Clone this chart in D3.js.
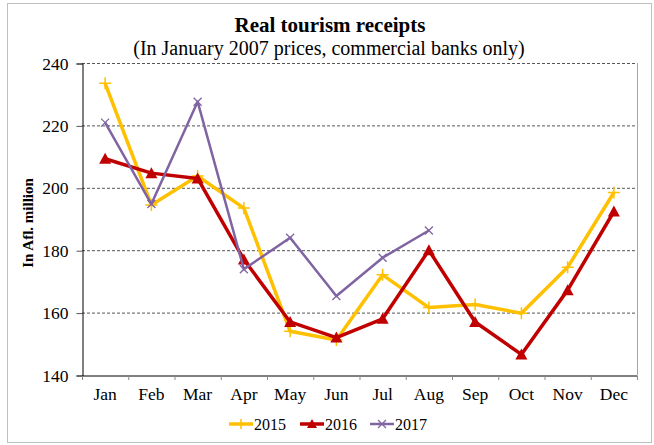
<!DOCTYPE html>
<html><head><meta charset="utf-8">
<script src="https://cdn.jsdelivr.net/npm/d3@7"></script>
<style>body{margin:0;background:#fff}svg{display:block}</style>
</head><body>
<script>
const months = ["Jan","Feb","Mar","Apr","May","Jun","Jul","Aug","Sep","Oct","Nov","Dec"];
const yTicks = [140,160,180,200,220,240];
const s2015 = [233.5,194.5,203.8,193.5,154,151.2,172.1,161.6,162.6,159.8,174.5,198.5];
const s2016 = [209.3,204.7,203,177,157,152,158,180,157,146.6,167.2,192.4];
const s2017 = [220.9,194.8,227.6,173.9,184,165.3,177.6,186.3];
const seriesNames = ["2015","2016","2017"];

const W=654,H=445;
const L=82,R=637,T=63,B=375;
const font='"Liberation Serif","Times New Roman",serif';
const svg=d3.select("body").append("svg").attr("width",W).attr("height",H);
svg.append("rect").attr("x",7.5).attr("y",3.5).attr("width",644).attr("height",439)
  .attr("fill","#fff").attr("stroke","#bfbfbf");

const x=d3.scaleBand().domain(months).range([L,R]);
const y=d3.scaleLinear().domain([140,240]).range([B,T]);

// grid
svg.append("g").selectAll("line").data(yTicks.filter(d=>d>140)).join("line")
  .attr("x1",L).attr("x2",R).attr("y1",d=>y(d)+0.5).attr("y2",d=>y(d)+0.5)
  .attr("stroke","#555").attr("stroke-dasharray","3,2").attr("stroke-width",1);
svg.append("line").attr("x1",R+0.5).attr("x2",R+0.5).attr("y1",T).attr("y2",B)
  .attr("stroke","#a6a6a6");

// axes
const yAxis=svg.append("g").attr("transform",`translate(${L+0.5},0.5)`)
  .call(d3.axisLeft(y).tickValues(yTicks).tickSize(6).tickPadding(8));
const xAxis=svg.append("g").attr("transform",`translate(0,${B+0.5})`)
  .call(d3.axisBottom(x).tickSize(0).tickPadding(12));
// boundary ticks
svg.append("g").selectAll("line").data(months).join("line")
  .attr("x1",d=>x(d)+0.5).attr("x2",d=>x(d)+0.5).attr("y1",B+1).attr("y2",B+5).attr("stroke","#888");
svg.append("line").attr("x1",R+0.5).attr("x2",R+0.5).attr("y1",B+1).attr("y2",B+5).attr("stroke","#888");
[yAxis,xAxis].forEach(g=>{
  g.selectAll("text").attr("font-family",font).attr("font-size",17.5).attr("fill","#000");
  g.selectAll("path,line").attr("stroke","#000");
});
yAxis.selectAll(".tick line").attr("stroke","#555");

const cx=d=>x(d)+x.bandwidth()/2;
const styles=[
  {data:s2015,color:"#FFC000",w:3.5,marker:"plus"},
  {data:s2016,color:"#C00000",w:3.5,marker:"tri"},
  {data:s2017,color:"#8064A2",w:2.5,marker:"x"}
];
function marker(g,type,color,px,py,sz){
  if(type==="plus"){
    g.append("path").attr("d",`M${px-sz},${py}H${px+sz}M${px},${py-sz}V${py+sz}`)
      .attr("stroke",color).attr("stroke-width",1.5).attr("fill","none");
  }else if(type==="tri"){
    g.append("path").attr("d",`M${px},${py-sz-1}L${px+sz+1},${py+sz}L${px-sz-1},${py+sz}Z`).attr("fill",color);
  }else{
    g.append("path").attr("d",`M${px-sz},${py-sz}L${px+sz},${py+sz}M${px-sz},${py+sz}L${px+sz},${py-sz}`)
      .attr("stroke",color).attr("stroke-width",1.3).attr("fill","none");
  }
}
const line=d3.line().x((d,i)=>cx(months[i])).y(d=>y(d));
styles.forEach(s=>{
  const g=svg.append("g");
  g.append("path").datum(s.data).attr("d",line).attr("fill","none")
    .attr("stroke",s.color).attr("stroke-width",s.w).attr("stroke-linejoin","round");
  s.data.forEach((v,i)=>marker(g,s.marker,s.color,cx(months[i]),y(v),s.marker==="x"?4:s.marker==="tri"?5:6));
});

// titles
svg.append("text").attr("x",330).attr("y",32).attr("text-anchor","middle")
  .attr("font-family",font).attr("font-weight","bold").attr("font-size",21).text("Real tourism receipts");
svg.append("text").attr("x",329).attr("y",55).attr("text-anchor","middle")
  .attr("font-family",font).attr("font-size",20).text("(In January 2007 prices, commercial banks only)");
svg.append("text").attr("transform","translate(33,223) rotate(-90)").attr("text-anchor","middle")
  .attr("font-family",font).attr("font-weight","bold").attr("font-size",15).text("In Afl. million");

// legend
const lx=[229,300,370];
styles.forEach((s,i)=>{
  const g=svg.append("g");
  g.append("line").attr("x1",lx[i]).attr("x2",lx[i]+24).attr("y1",424).attr("y2",424)
    .attr("stroke",s.color).attr("stroke-width",s.w);
  marker(g,s.marker,s.color,lx[i]+12,424,s.marker==="plus"?5:s.marker==="tri"?4:4);
  g.append("text").attr("x",lx[i]+25).attr("y",430).attr("font-family",font).attr("font-size",16)
    .text(seriesNames[i]);
});
</script>
</body></html>
